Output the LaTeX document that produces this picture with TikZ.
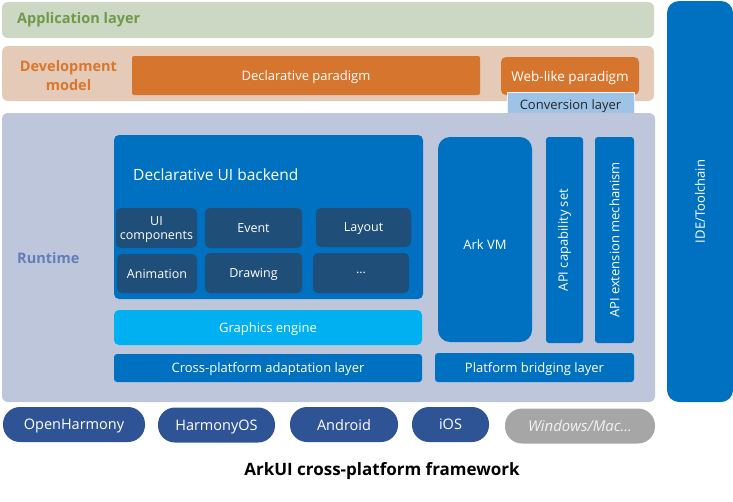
\documentclass[tikz,border=0pt]{standalone}
\usepackage{fontspec}
\setmainfont{Open Sans}
\usetikzlibrary{positioning}
\definecolor{applayer}{RGB}{204,215,196}
\definecolor{apptext}{RGB}{112,153,72}
\definecolor{devlayer}{RGB}{229,202,184}
\definecolor{devtext}{RGB}{215,119,48}
\definecolor{paradigm}{RGB}{214,117,46}
\definecolor{convert}{RGB}{157,195,230}
\definecolor{runlayer}{RGB}{190,198,220}
\definecolor{runtext}{RGB}{100,125,185}
\definecolor{arkblue}{RGB}{0,112,192}
\definecolor{darkblue}{RGB}{31,78,121}
\definecolor{skyblue}{RGB}{0,176,240}
\definecolor{osblue}{RGB}{47,84,150}
\definecolor{osgray}{RGB}{166,166,166}

\begin{document}
\begin{tikzpicture}
    [
        x=1pt,y=-1pt,
        layer/.style={rounded corners=6pt, minimum width=652pt, inner sep=0pt},
        bluebox/.style={fill=arkblue, text=white, rounded corners=3pt, inner sep=0pt, text depth=0pt, font=\fontsize{13}{15}\selectfont},
        subbox/.style={fill=darkblue, text=white, rounded corners=5pt, inner sep=0pt, text depth=0pt, align=center, font=\fontsize{12.5}{13.5}\selectfont},
        osbox/.style={fill=osblue, text=white, rounded corners=17pt, minimum height=35pt, inner sep=0pt, text depth=0pt, font=\fontsize{14.5}{16}\selectfont}
    ]
    \tikzstyle{title} = [font=\fontsize{14.5}{18.5}\selectfont\bfseries, inner sep=0pt]
    \tikzstyle{vtext} = [rotate=90, font=\fontsize{13}{15}\selectfont]

    \useasboundingbox (0,0) rectangle (733,501);

    % application layer and development model
    \node[layer, fill=applayer, minimum height=36pt] (app) at (328,20) {};
    \node[title, text=apptext, anchor=west] (app_label) at (17,20) {Application layer};
    \node[layer, fill=devlayer, minimum height=55pt] (dev) at (328,73.5) {};
    \node[title, text=devtext, align=center] (dev_label) at (68.5,75.5) {Development\\model};
    \node[fill=paradigm, text=white, rounded corners=2pt, minimum width=348pt, minimum height=39pt, inner sep=0pt, text depth=0pt, font=\fontsize{13}{15}\selectfont] (decl) at (306,75.5) {Declarative paradigm};
    \node[fill=paradigm, text=white, rounded corners=5pt, minimum width=138pt, minimum height=38pt, inner sep=0pt, text depth=0pt, font=\fontsize{13.5}{15}\selectfont] (web) at (570,76) {Web-like paradigm};
    \node[fill=convert, draw=white!80!convert, text=black!85, minimum width=127pt, minimum height=26pt, inner sep=0pt, text depth=0pt, font=\fontsize{13}{15}\selectfont] (conv) at (570.5,105) {Conversion layer};

    % runtime
    \node[layer, fill=runlayer, minimum width=653pt, minimum height=289pt] (run) at (328.5,257.5) {};
    \node[title, text=runtext, anchor=west] (run_label) at (17,258) {Runtime};
    \node[fill=arkblue, rounded corners=12pt, minimum width=66pt, minimum height=401pt, inner sep=0pt] (ide) at (700,201.5) {};
    \node[vtext, text=white] (ide_label) at (ide.center) {IDE/Toolchain};

    \node[bluebox, rounded corners=5pt, minimum width=309pt, minimum height=164pt] (uib) at (268.5,217) {};
    \node[anchor=west, text=white, inner sep=0pt, font=\fontsize{15.5}{17}\selectfont] (uib_label) at (133,175) {Declarative UI backend};
    \node[subbox, minimum width=81pt, minimum height=40pt] (ui_comp) at (156.5,228) {UI\\components};
    \node[subbox, minimum width=97pt, minimum height=40pt] (event) at (253.5,228) {Event};
    \node[subbox, minimum width=95pt, minimum height=39pt] (layout) at (363.5,227.5) {Layout};
    \node[subbox, minimum width=80pt, minimum height=39pt] (anim) at (157,273.5) {Animation};
    \node[subbox, minimum width=97pt, minimum height=40pt] (drawing) at (253.5,273) {Drawing};
    \node[subbox, minimum width=96pt, minimum height=40pt] (more) at (361,273) {...};

    \node[bluebox, fill=skyblue, rounded corners=5pt, minimum width=308pt, minimum height=35pt] (gfx) at (268,327.5) {Graphics engine};
    \node[bluebox, minimum width=308pt, minimum height=28pt] (cross) at (268,368) {Cross-platform adaptation layer};

    \node[bluebox, rounded corners=12pt, minimum width=94pt, minimum height=205pt] (arkvm) at (485,239.5) {};
    \node[text=white, text depth=0pt, inner sep=0pt, font=\fontsize{13}{15}\selectfont] (arkvm_label) at (485,245) {Ark VM};
    \node[bluebox, minimum width=37pt, minimum height=206pt] (api_cap) at (564.5,240) {};
    \node[vtext, text=white] (api_cap_label) at (api_cap.center) {API capability set};
    \node[bluebox, minimum width=39pt, minimum height=206pt] (api_ext) at (614.5,240) {};
    \node[vtext, text=white] (api_ext_label) at (api_ext.center) {API extension mechanism};
    \node[bluebox, minimum width=199pt, minimum height=29pt] (bridge) at (534.5,367.5) {Platform bridging layer};

    % platforms
    \node[osbox, minimum width=142pt] (ohos) at (74,424.5) {OpenHarmony};
    \node[osbox, minimum width=117pt] (hmos) at (216.5,425) {HarmonyOS};
    \node[osbox, minimum width=108pt] (android) at (344,424.5) {Android};
    \node[osbox, minimum width=77pt] (ios) at (450.5,424.5) {iOS};
    \node[osbox, fill=osgray, text=white!95!black, minimum width=150pt, font=\fontsize{15}{16}\selectfont\itshape] (desktop) at (580,426) {Windows/Mac...};

    \node[font=\fontsize{17}{19}\selectfont\bfseries, inner sep=0pt] (caption) at (382,471) {ArkUI cross-platform framework};
\end{tikzpicture}
\end{document}
